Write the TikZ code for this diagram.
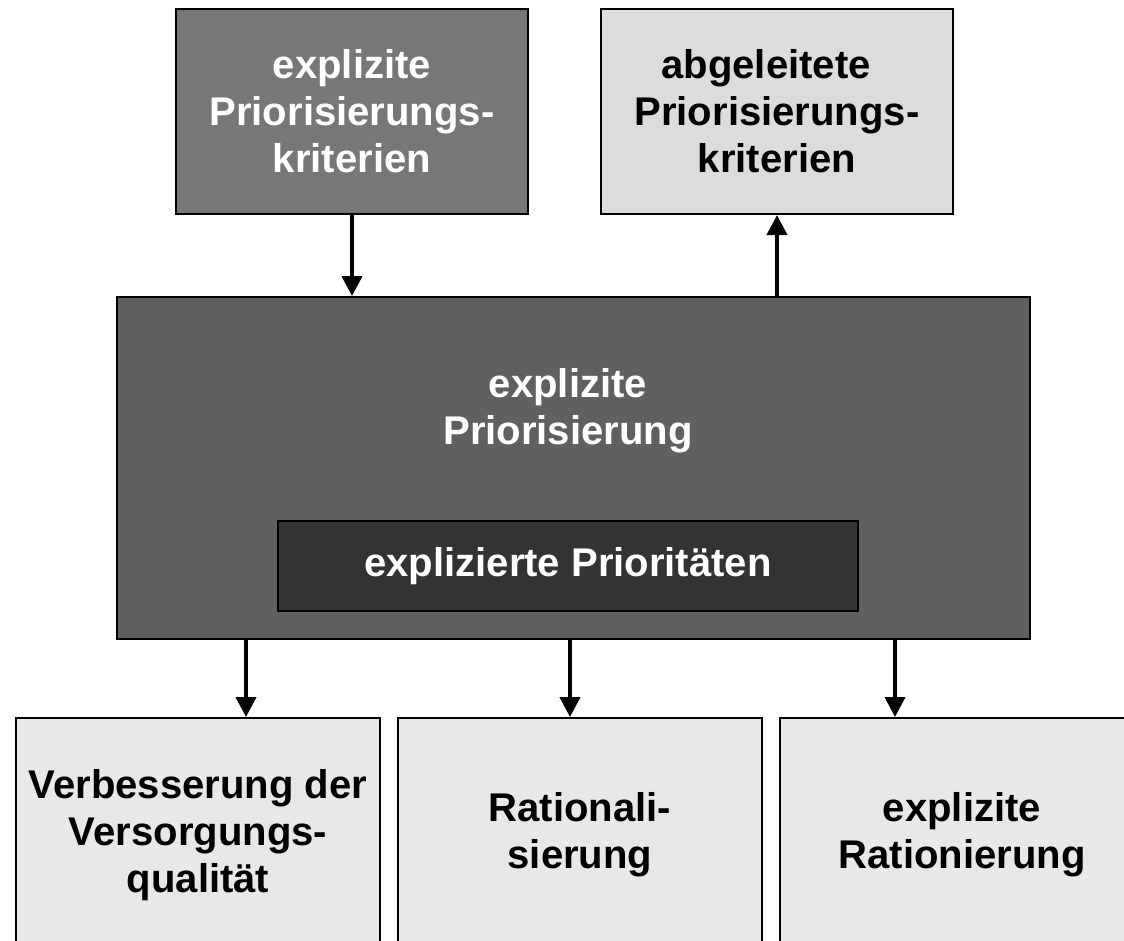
\documentclass[tikz,border=0pt]{standalone}
\usepackage{fontspec}
\setmainfont{Liberation Sans}
\usepackage{tikz}
\usetikzlibrary{arrows.meta}

\definecolor{kritexgray}{HTML}{777777}
\definecolor{kritabgray}{HTML}{DCDCDC}
\definecolor{priogray}{HTML}{606060}
\definecolor{expldark}{HTML}{333333}
\definecolor{zielgray}{HTML}{E8E8E8}

\begin{document}
\begin{tikzpicture}[font=\fontsize{28.5}{33.4}\selectfont\bfseries,
    box/.style={draw=black, line width=1.4pt, inner sep=0pt, align=center},
    pfeil/.style={-{Triangle[length=0.5cm,width=0.5cm]}, line width=2.8pt}]
  \useasboundingbox (0,0) rectangle (28.1,-23.525);

  % Kriterien oben
  \node[box, fill=kritexgray, text=white, minimum width=8.8cm, minimum height=5.125cm]
    (kritex) at (8.8,-2.79) {explizite\\Priorisierungs-\\kriterien};
  \node[box, fill=kritabgray, minimum width=8.8cm, minimum height=5.125cm]
    (kritab) at (19.425,-2.79) {abgeleitete\hspace*{0.55cm}\\Priorisierungs-\\kriterien};

  % Priorisierung
  \node[box, fill=priogray, minimum width=22.825cm, minimum height=8.55cm]
    (prio) at (14.34,-11.7) {};
  \node[text=white, align=center] (priotext) at (14.2,-10.275) {explizite\\Priorisierung};
  \node[box, fill=expldark, text=white, minimum width=14.5cm, minimum height=2.25cm]
    (prioexpl) at (14.2,-14.15) {explizierte Priorit\"aten};

  \def\drawZiel#1#2#3{
    \node[box, fill=zielgray, minimum width=9.1cm, minimum height=5.85cm]
      (#1) at (#2,-20.875) {#3};
  }

  \drawZiel{verb}{4.95}{Verbesserung der\\Versorgungs-\\qualit\"at}
  \drawZiel{ratio}{14.5}{Rationali-\\sierung}
  \drawZiel{ration}{24.05}{explizite\\Rationierung}

  % Pfeile
  \draw[pfeil] (kritex.south) -- (kritex.south |- prio.north);
  \draw[pfeil] (kritab.south |- prio.north) -- (kritab.south);

  \coordinate (av) at (6.15,-15.975);
  \coordinate (ar) at (14.25,-15.975);
  \coordinate (an) at (22.375,-15.975);
  \draw[pfeil] (av) -- (av |- verb.north);
  \draw[pfeil] (ar) -- (ar |- ratio.north);
  \draw[pfeil] (an) -- (an |- ration.north);
\end{tikzpicture}
\end{document}
